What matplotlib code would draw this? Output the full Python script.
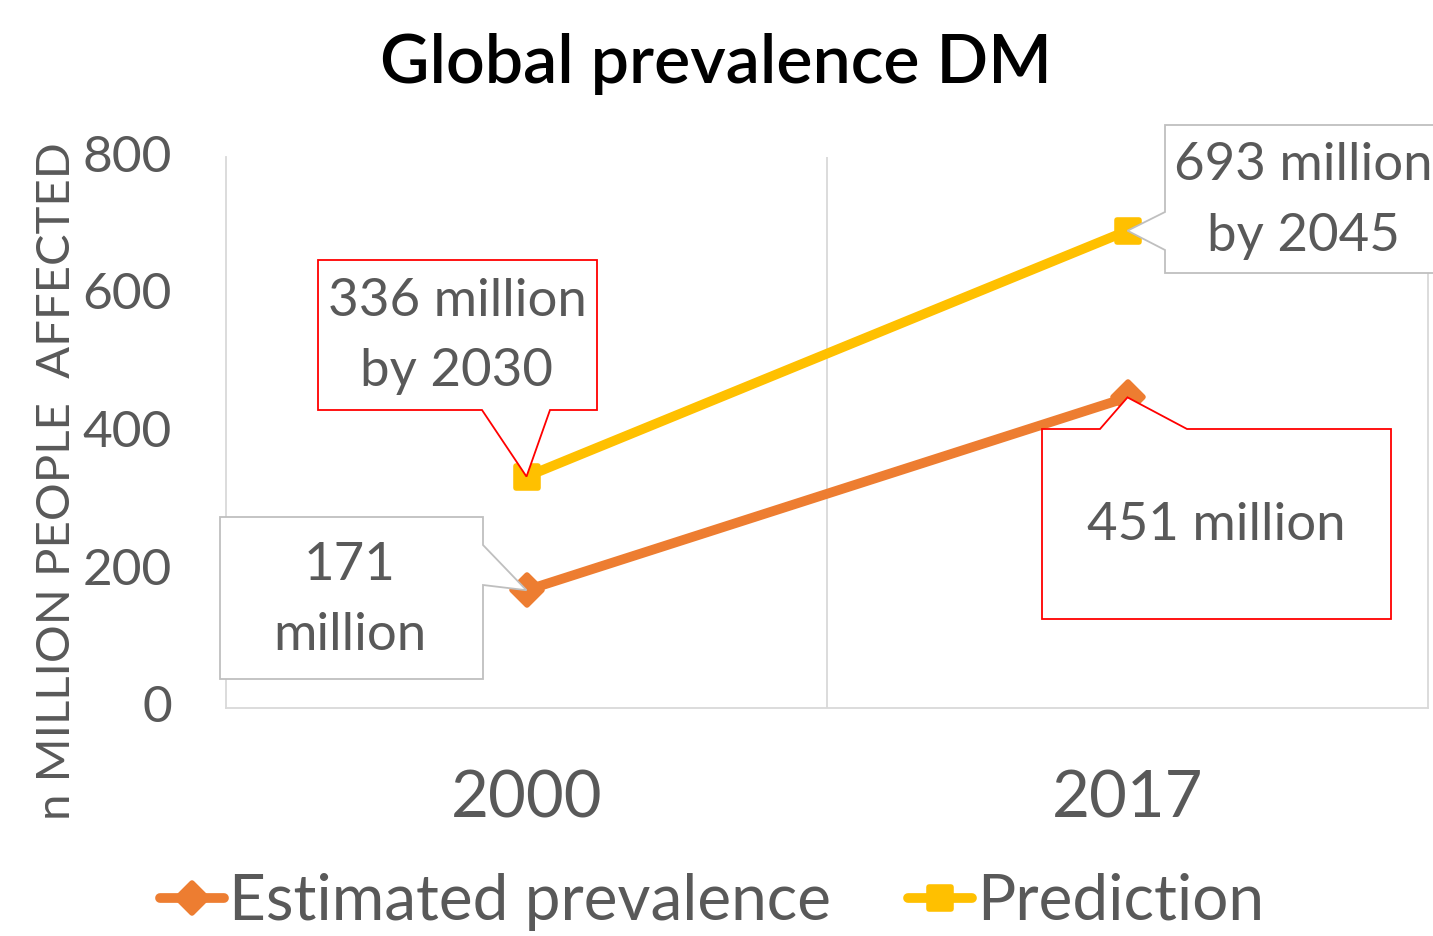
import matplotlib
matplotlib.use("Agg")
import matplotlib.pyplot as plt
from matplotlib.patches import Polygon
from matplotlib.markers import MarkerStyle
from matplotlib.transforms import ScaledTranslation

categories = ["2000", "2017"]
estimated = [171, 451]
prediction = [336, 693]
yticks = [0, 200, 400, 600, 800]
series_names = ["Estimated prevalence", "Prediction"]
title = "Global prevalence DM"
ylabel = "n MILLION PEOPLE  AFFECTED"

ORANGE = "#ED7D31"
YELLOW = "#FFC000"
GRAY = "#595959"
GRID = "#D9D9D9"
FONT = "Lato"

W, H = 1433, 936
fig = plt.figure(figsize=(W / 100, H / 100), dpi=100)
ax = fig.add_axes([226 / W, 1 - 708 / H, (1428 - 226) / W, (708 - 157) / H])

x = list(range(len(categories)))
ax.plot(x, estimated, color=ORANGE, lw=7, marker=MarkerStyle("D", joinstyle="round"),
        ms=15, mew=4, mec=ORANGE, solid_capstyle="round",
        label=series_names[0], zorder=3)
ax.plot(x, prediction, color=YELLOW, lw=7, marker=MarkerStyle("s", joinstyle="round"),
        ms=16, mew=4, mec=YELLOW, solid_capstyle="round",
        label=series_names[1], zorder=3)

ax.set_xlim(-0.5, len(categories) - 0.5)
ax.set_ylim(0, 800)
ax.set_yticks(yticks)
ax.set_yticklabels([str(v) for v in yticks], fontsize=37, color=GRAY, family=FONT)
ax.set_xticks(x)
ax.set_xticklabels(categories, fontsize=47, color=GRAY, family=FONT)
ax.tick_params(axis="both", length=0)
ax.tick_params(axis="x", pad=44)
ax.tick_params(axis="y", pad=39)
shift = ScaledTranslation(0, 4 / 100, fig.dpi_scale_trans)
for lab in ax.get_yticklabels():
    lab.set_transform(lab.get_transform() + shift)

ax.spines["top"].set_visible(False)
for s in ["left", "right", "bottom"]:
    ax.spines[s].set_color(GRID)
    ax.spines[s].set_linewidth(1.3)
ax.axvline(0.5, color=GRID, lw=1.3, zorder=1)

fig.text(716 / W, 1 - 64 / H, title, ha="center", va="center", fontsize=49,
         family=FONT, weight="semibold", color="black")
fig.text(57 / W, 1 - 481 / H, ylabel, ha="center", va="center", rotation=90,
         fontsize=34, family=FONT, color=GRAY)

def px(xp, yp):
    return (xp / W, 1 - yp / H)

def tip(i, v):
    d = ax.transData.transform((i, v))
    f = fig.transFigure.inverted().transform(d)
    return (f[0], f[1])

def callout(box, side, base, tipxy, edge, lines, cx, cy, gap):
    x0, y0, x1, y1 = box
    if side == "bottom":
        pts = [px(x0, y0), px(x1, y0), px(x1, y1), px(base[1], y1), tipxy,
               px(base[0], y1), px(x0, y1)]
    elif side == "top":
        pts = [px(x0, y0), px(base[0], y0), tipxy, px(base[1], y0),
               px(x1, y0), px(x1, y1), px(x0, y1)]
    elif side == "left":
        pts = [px(x0, y0), px(x1, y0), px(x1, y1), px(x0, y1),
               px(x0, base[1]), tipxy, px(x0, base[0])]
    else:  # right
        pts = [px(x0, y0), px(x1, y0), px(x1, base[0]), tipxy,
               px(x1, base[1]), px(x1, y1), px(x0, y1)]
    poly = Polygon(pts, closed=True, transform=fig.transFigure,
                   facecolor="white", edgecolor=edge, lw=1.3, zorder=5,
                   clip_on=False)
    fig.add_artist(poly)
    n = len(lines)
    for k, t in enumerate(lines):
        yy = cy + (k - (n - 1) / 2) * gap
        fig.text(cx / W, 1 - yy / H, t, ha="center", va="center",
                 fontsize=38, family=FONT, color=GRAY, zorder=6)

callout((318, 260, 597, 410), "bottom", (482, 550), tip(0, prediction[0]),
        "#FF0000", ["336 million", "by 2030"], 457, 337, 70)
callout((1165, 125, 1460, 273), "left", (212, 250), tip(1, prediction[1]),
        "#BFBFBF", ["693 million", "by 2045"], 1303, 201, 70)
callout((220, 517, 483, 679), "right", (545, 585), tip(0, estimated[0]),
        "#BFBFBF", ["171", "million"], 350, 601, 70)
callout((1042, 429, 1391, 619), "top", (1100, 1187), tip(1, estimated[1]),
        "#FF0000", ["451 million"], 1216, 526, 70)

leg = ax.legend(loc="center", bbox_to_anchor=(712 / W, 1 - 902 / H),
                bbox_transform=fig.transFigure, ncol=2, frameon=False,
                handlelength=1.0, handletextpad=0.08, columnspacing=1.2,
                prop={"family": FONT, "size": 46})
for t in leg.get_texts():
    t.set_color(GRAY)

fig.savefig("out.png", dpi=100)
